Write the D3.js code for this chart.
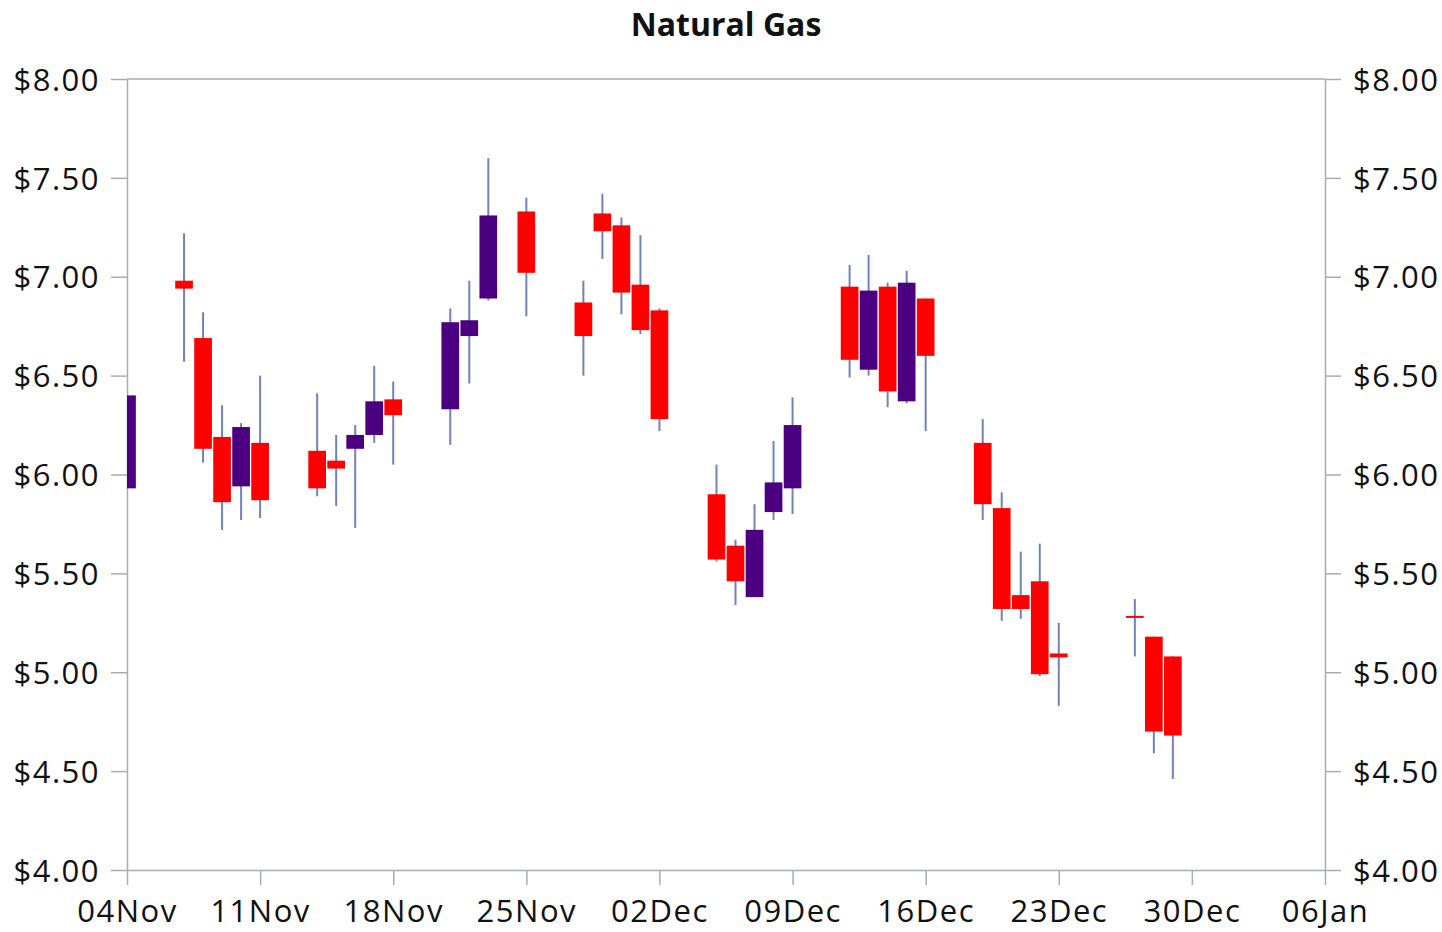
<!DOCTYPE html>
<html>
<head>
<meta charset="utf-8">
<script src="https://cdn.jsdelivr.net/npm/d3@7"></script>
<style>
  body { margin: 0; background: #fff; }
  .axis text { font-family: "Open Sans", "Noto Sans", sans-serif; font-size: 31px; fill: #111; letter-spacing: 1.5px; }
  .axis path, .axis line { stroke: #a8acb0; stroke-width: 1.5; }
</style>
</head>
<body>
<div id="chart"></div>
<script>
// trading days (2022-11-04 .. 2022-12-29)
var dates = ["2022-11-04","2022-11-07","2022-11-08","2022-11-09","2022-11-10","2022-11-11",
  "2022-11-14","2022-11-15","2022-11-16","2022-11-17","2022-11-18",
  "2022-11-21","2022-11-22","2022-11-23","2022-11-25",
  "2022-11-28","2022-11-29","2022-11-30","2022-12-01","2022-12-02",
  "2022-12-05","2022-12-06","2022-12-07","2022-12-08","2022-12-09",
  "2022-12-12","2022-12-13","2022-12-14","2022-12-15","2022-12-16",
  "2022-12-19","2022-12-20","2022-12-21","2022-12-22","2022-12-23",
  "2022-12-27","2022-12-28","2022-12-29"];
var open  = [5.93,6.98,6.69,6.19,5.94,6.16, 6.12,6.07,6.13,6.20,6.38, 6.33,6.70,6.89,7.33,
  6.87,7.32,7.26,6.96,6.83, 5.90,5.64,5.38,5.81,5.93, 6.95,6.53,6.95,6.37,6.89,
  6.16,5.83,5.39,5.46,5.095, 5.285,5.18,5.08];
var high  = [6.40,7.22,6.82,6.35,6.26,6.50, 6.41,6.20,6.25,6.55,6.47, 6.84,6.98,7.60,7.40,
  6.98,7.42,7.30,7.21,6.84, 6.05,5.67,5.85,6.17,6.39, 7.06,7.11,6.97,7.03,6.89,
  6.28,5.91,5.61,5.65,5.25, 5.37,5.18,5.08];
var low   = [5.93,6.57,6.06,5.72,5.77,5.78, 5.89,5.84,5.73,6.16,6.05, 6.15,6.46,6.88,6.80,
  6.50,7.09,6.81,6.71,6.22, 5.56,5.34,5.38,5.77,5.80, 6.49,6.50,6.34,6.36,6.22,
  5.77,5.26,5.27,4.98,4.83, 5.08,4.59,4.46];
var close = [6.40,6.94,6.13,5.86,6.24,5.87, 5.93,6.03,6.20,6.37,6.30, 6.77,6.78,7.31,7.02,
  6.70,7.23,6.92,6.73,6.28, 5.57,5.46,5.72,5.96,6.25, 6.58,6.93,6.42,6.97,6.60,
  5.85,5.32,5.32,4.99,5.075, 5.275,4.70,4.68];

var xTicks = ["2022-11-04","2022-11-11","2022-11-18","2022-11-25","2022-12-02","2022-12-09",
  "2022-12-16","2022-12-23","2022-12-30","2023-01-06"];
var yTicks = [4, 4.5, 5, 5.5, 6, 6.5, 7, 7.5, 8];

function init()
{
    var w = 1442, h = 932;
    var left = 127, right = 1325, top = 79, bottom = 870;

    var parse = d3.utcParse("%Y-%m-%d");
    var data = dates.map(function(d, i) {
        return { date: parse(d), o: open[i], h: high[i], l: low[i], c: close[i] };
    });

    var svg = d3.select("#chart").append("svg")
        .attr("width", w)
        .attr("height", h);

    var xScale = d3.scaleUtc()
        .domain([parse(xTicks[0]), parse(xTicks[xTicks.length - 1])])
        .range([left, right]);
    var yScale = d3.scaleLinear()
        .domain([4, 8])
        .range([bottom, top]);

    var dayW = xScale(parse("2022-11-05")) - xScale(parse("2022-11-04"));
    var bodyW = dayW * 0.93;

    svg.append("defs").append("clipPath").attr("id", "plot")
        .append("rect")
        .attr("x", left).attr("y", top)
        .attr("width", right - left).attr("height", bottom - top);

    // frame top line
    svg.append("line")
        .attr("x1", left).attr("x2", right)
        .attr("y1", top).attr("y2", top)
        .attr("stroke", "#a8acb0").attr("stroke-width", 1.5);

    var fmt = d3.format("$.2f");

    var xAxis = d3.axisBottom(xScale)
        .tickValues(xTicks.map(parse))
        .tickFormat(d3.utcFormat("%d%b"))
        .tickSize(15).tickSizeOuter(0).tickPadding(15);
    svg.append("g").attr("class", "axis x")
        .attr("transform", "translate(0," + bottom + ")")
        .call(xAxis);

    var yLeft = d3.axisLeft(yScale).tickValues(yTicks).tickFormat(fmt)
        .tickSize(16).tickSizeOuter(0).tickPadding(11);
    svg.append("g").attr("class", "axis y")
        .attr("transform", "translate(" + left + ",0)")
        .call(yLeft);

    var yRight = d3.axisRight(yScale).tickValues(yTicks).tickFormat(fmt)
        .tickSize(16).tickSizeOuter(0).tickPadding(12);
    svg.append("g").attr("class", "axis y")
        .attr("transform", "translate(" + right + ",0)")
        .call(yRight);

    svg.selectAll(".axis.y text").attr("dy", "0.36em");
    svg.selectAll(".axis.x text").attr("dy", "0.71em");

    var g = svg.append("g").attr("clip-path", "url(#plot)");

    // wicks
    g.selectAll(".wick").data(data).enter().append("line")
        .attr("class", "wick")
        .attr("x1", function(d) { return xScale(d.date); })
        .attr("x2", function(d) { return xScale(d.date); })
        .attr("y1", function(d) { return yScale(d.h); })
        .attr("y2", function(d) { return yScale(d.l); })
        .attr("stroke", "#7282b6")
        .attr("stroke-width", 2);

    // bodies
    g.selectAll(".body").data(data).enter().append("rect")
        .attr("class", "body")
        .attr("x", function(d) { return xScale(d.date) - bodyW / 2; })
        .attr("width", bodyW)
        .attr("y", function(d) { return yScale(Math.max(d.o, d.c)); })
        .attr("height", function(d) { return Math.max(2, Math.abs(yScale(d.o) - yScale(d.c))); })
        .attr("fill", function(d) { return d.c >= d.o ? "#4b0082" : "#ff0000"; });

    svg.append("text")
        .attr("x", (left + right) / 2)
        .attr("y", 36)
        .attr("text-anchor", "middle")
        .style("font-family", "'Open Sans', 'Noto Sans', sans-serif")
        .style("font-weight", "bold")
        .style("font-size", "32px")
        .style("fill", "#111")
        .text("Natural Gas");
}

window.onload = init;
</script>
</body>
</html>
